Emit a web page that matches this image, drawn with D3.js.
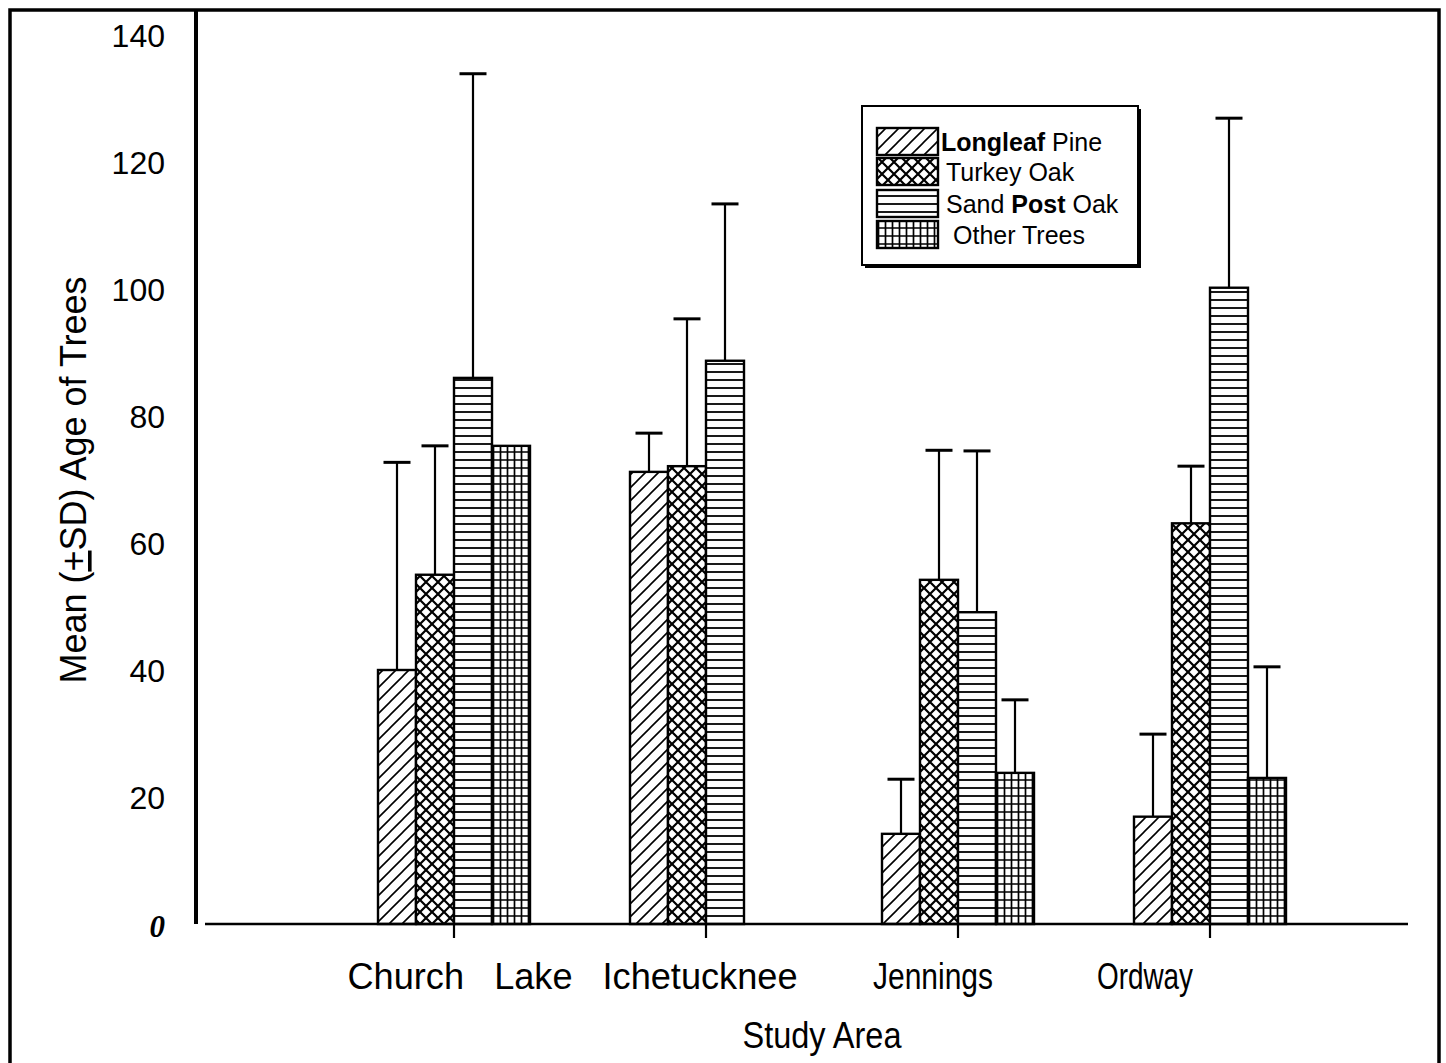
<!DOCTYPE html>
<html>
<head>
<meta charset="utf-8">
<script src="https://cdn.jsdelivr.net/npm/d3@7"></script>
<style>
  html, body { margin: 0; padding: 0; background: #fff; }
  svg { display: block; }
  text { font-family: "Liberation Sans", Arial, sans-serif; fill: #000; }
</style>
</head>
<body>
<svg id="chart" width="1446" height="1063"></svg>
<script>
// Study areas and tree groups
const sites = ["Church Lake", "Ichetucknee", "Jennings", "Ordway"];
const species = ["Longleaf Pine", "Turkey Oak", "Sand Post Oak", "Other Trees"];

// Mean age (years) per study area
const meanLongleaf = [40, 71.2, 14.2, 16.9];
const meanTurkey   = [55, 72.1, 54.2, 63.1];
const meanSandPost = [86, 88.7, 49.1, 100.2];
const meanOther    = [75.3, null, 23.8, 23];

// Standard deviation (upper error bar) per study area
const sdLongleaf = [32.7, 6.1, 8.6, 13.0];
const sdTurkey   = [20.3, 23.2, 20.4, 9.0];
const sdSandPost = [47.9, 24.7, 25.4, 26.7];
const sdOther    = [null, null, 11.5, 17.5];

// Y axis tick values
const yTicks = [0, 20, 40, 60, 80, 100, 120, 140];

const means = [meanLongleaf, meanTurkey, meanSandPost, meanOther];
const sds = [sdLongleaf, sdTurkey, sdSandPost, sdOther];
const patternIds = ["hatchDiag", "hatchCross", "hatchHoriz", "hatchGrid"];

const rows = [];
sites.forEach((site, i) => {
  species.forEach((sp, j) => {
    if (means[j][i] != null) rows.push({ site, sp, j, mean: means[j][i], sd: sds[j][i] });
  });
});

const svg = d3.select("#chart");

// ---- fill patterns ----
const defs = svg.append("defs");
const pDiag = defs.append("pattern").attr("id", "hatchDiag")
  .attr("patternUnits", "userSpaceOnUse").attr("width", 13).attr("height", 13);
pDiag.append("rect").attr("width", 13).attr("height", 13).attr("fill", "#fff");
pDiag.append("path").attr("d", "M-3,3 L3,-3 M0,13 L13,0 M10,16 L16,10")
  .attr("stroke", "#000").attr("stroke-width", 1.6);

const pCross = defs.append("pattern").attr("id", "hatchCross")
  .attr("patternUnits", "userSpaceOnUse").attr("width", 12).attr("height", 12);
pCross.append("rect").attr("width", 12).attr("height", 12).attr("fill", "#fff");
pCross.append("path").attr("d", "M0,0 L12,12 M0,12 L12,0")
  .attr("stroke", "#000").attr("stroke-width", 2.2);

const pHoriz = defs.append("pattern").attr("id", "hatchHoriz")
  .attr("patternUnits", "userSpaceOnUse").attr("width", 10).attr("height", 8);
pHoriz.append("rect").attr("width", 10).attr("height", 8).attr("fill", "#fff");
pHoriz.append("path").attr("d", "M0,4 L10,4")
  .attr("stroke", "#000").attr("stroke-width", 1.8);

const pGrid = defs.append("pattern").attr("id", "hatchGrid")
  .attr("patternUnits", "userSpaceOnUse").attr("width", 7).attr("height", 8);
pGrid.append("rect").attr("width", 7).attr("height", 8).attr("fill", "#fff");
pGrid.append("path").attr("d", "M3.5,0 L3.5,8 M0,4 L7,4")
  .attr("stroke", "#000").attr("stroke-width", 1.7);

// ---- scales ----
const y = d3.scaleLinear().domain([0, 140]).range([924, 35]);
const x0 = d3.scaleBand().domain(sites).range([328, 1336]).padding(0);
const x1 = d3.scaleBand().domain(species).range([-76, 76]).padding(0);

// ---- outer frame ----
svg.append("rect").attr("x", 10).attr("y", 10).attr("width", 1429).attr("height", 1120)
  .attr("fill", "none").attr("stroke", "#000").attr("stroke-width", 3.5);

// ---- bars ----
const g = svg.append("g");
g.selectAll("rect.bar").data(rows).join("rect")
  .attr("class", "bar")
  .attr("x", d => x0(d.site) + x0.bandwidth() / 2 + x1(d.sp))
  .attr("y", d => y(d.mean))
  .attr("width", x1.bandwidth())
  .attr("height", d => y(0) - y(d.mean))
  .attr("fill", d => `url(#${patternIds[d.j]})`)
  .attr("stroke", "#000").attr("stroke-width", 2.4);

// ---- error bars (mean + SD) ----
const eb = rows.filter(d => d.sd != null);
const cx = d => x0(d.site) + x0.bandwidth() / 2 + x1(d.sp) + x1.bandwidth() / 2;
g.selectAll("line.err").data(eb).join("line")
  .attr("x1", cx).attr("x2", cx)
  .attr("y1", d => y(d.mean)).attr("y2", d => y(d.mean + d.sd))
  .attr("stroke", "#000").attr("stroke-width", 2.2);
g.selectAll("line.cap").data(eb).join("line")
  .attr("x1", d => cx(d) - 13.5).attr("x2", d => cx(d) + 13.5)
  .attr("y1", d => y(d.mean + d.sd)).attr("y2", d => y(d.mean + d.sd))
  .attr("stroke", "#000").attr("stroke-width", 3);

// ---- axes ----
svg.append("line").attr("x1", 196).attr("x2", 196).attr("y1", 10).attr("y2", y(0))
  .attr("stroke", "#000").attr("stroke-width", 4);
svg.append("line").attr("x1", 205).attr("x2", 1408).attr("y1", y(0)).attr("y2", y(0))
  .attr("stroke", "#000").attr("stroke-width", 2.6);

const yAxis = svg.append("g").attr("transform", "translate(196,0)")
  .call(d3.axisLeft(y).tickValues(yTicks).tickSize(0).tickPadding(31));
yAxis.select(".domain").remove();
yAxis.selectAll("text")
  .style("font-family", "'Liberation Sans', Arial, sans-serif")
  .style("font-size", "32px").attr("dy", "0.36em");
yAxis.selectAll(".tick").filter(d => d === 0).select("text")
  .style("font-family", "'Liberation Serif', 'Times New Roman', serif")
  .style("font-weight", "bold").style("font-style", "italic")
  .style("font-size", "31px").attr("dy", "0.4em");

const xAxis = svg.append("g").attr("transform", `translate(0,${y(0)})`)
  .call(d3.axisBottom(x0).tickSize(14).tickFormat(""));
xAxis.select(".domain").remove();
xAxis.selectAll("line").attr("stroke", "#000").attr("stroke-width", 2.2);

// category labels under the axis
const labelShift = [6, -6, -25, -65];
const labelWidth = [225, 195, 120, 96];
svg.append("g").selectAll("text").data(sites).join("text")
  .attr("x", (d, i) => x0(d) + x0.bandwidth() / 2 + labelShift[i])
  .attr("y", 989)
  .attr("text-anchor", "middle")
  .attr("textLength", (d, i) => labelWidth[i])
  .attr("lengthAdjust", "spacingAndGlyphs")
  .style("font-size", "36px")
  .text(d => d === "Church Lake" ? "Church   Lake" : d)
  .attr("xml:space", "preserve");

// axis titles
svg.append("text").attr("x", 822).attr("y", 1048).attr("text-anchor", "middle")
  .attr("textLength", 159).attr("lengthAdjust", "spacingAndGlyphs")
  .style("font-size", "36px").text("Study Area");

const yt = svg.append("text")
  .attr("transform", "translate(86,480) rotate(-90)")
  .attr("text-anchor", "middle")
  .style("font-size", "36px");
yt.append("tspan").text("Mean (");
yt.append("tspan").style("text-decoration", "underline").text("+");
yt.append("tspan").text("SD) Age of Trees");

// ---- legend ----
const lg = svg.append("g");
lg.append("rect").attr("x", 865).attr("y", 109).attr("width", 276).attr("height", 159).attr("fill", "#000");
lg.append("rect").attr("x", 862).attr("y", 106).attr("width", 276).attr("height", 159)
  .attr("fill", "#fff").attr("stroke", "#000").attr("stroke-width", 2);
const swY = [128, 158, 190, 221];
const items = lg.selectAll("g.item").data(species).join("g").attr("class", "item");
items.append("rect")
  .attr("x", 877).attr("y", (d, i) => swY[i])
  .attr("width", 61).attr("height", 27)
  .attr("fill", (d, i) => `url(#${patternIds[i]})`)
  .attr("stroke", "#000").attr("stroke-width", 2.4);
const lt = items.append("text")
  .attr("x", (d, i) => i === 3 ? 953 : (i === 0 ? 941 : 946))
  .attr("y", (d, i) => swY[i] + 23)
  .style("font-size", "25px");
lt.each(function(d) {
  const t = d3.select(this);
  if (d === "Longleaf Pine") {
    t.append("tspan").style("font-weight", "bold").text("Longleaf");
    t.append("tspan").text(" Pine");
  } else if (d === "Sand Post Oak") {
    t.append("tspan").text("Sand ");
    t.append("tspan").style("font-weight", "bold").text("Post");
    t.append("tspan").text(" Oak");
  } else {
    t.text(d);
  }
});
</script>
</body>
</html>
